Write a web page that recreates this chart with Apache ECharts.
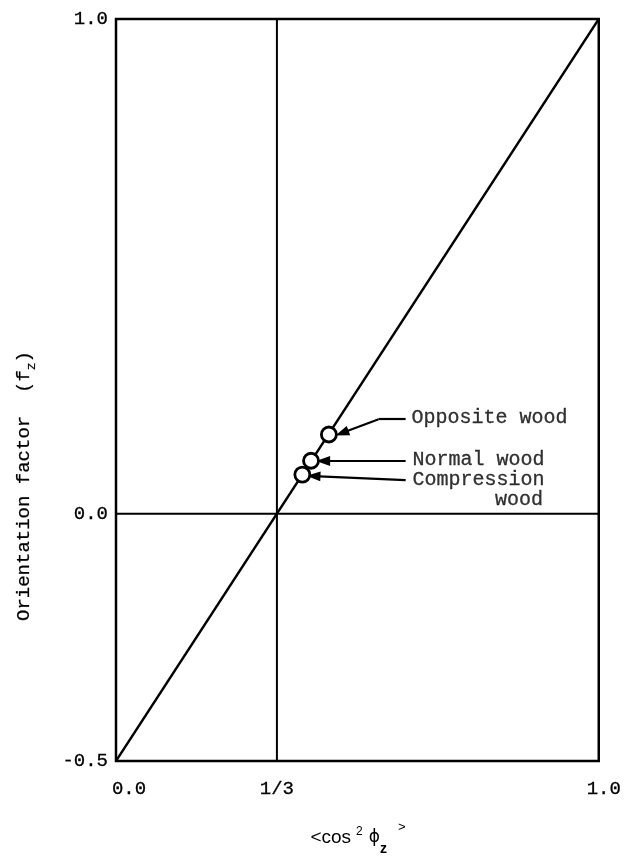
<!DOCTYPE html>
<html>
<head>
<meta charset="utf-8">
<script src="https://cdn.jsdelivr.net/npm/echarts@6/dist/echarts.min.js"></script>
<style>
  html, body { margin: 0; padding: 0; background: #fff; }
  #chart { width: 624px; height: 860px; }
</style>
</head>
<body>
<div id="chart"></div>
<script>
// ---- data ----
const xTickValues = [0, 1/3, 1];
const xTickLabels = ['0.0', '1/3', '1.0'];
const yTickValues = [-0.5, 0, 1];
const yTickLabels = ['-0.5', '0.0', '1.0'];

// theoretical line f = (3<cos^2> - 1)/2
const lineX = [0, 1];
const lineY = [-0.5, 1.0];

// reference lines
const refX = 1/3;
const refY = 0;

// measured woods
const woodNames = ['Opposite wood', 'Normal wood', 'Compression wood'];
const woodX = [0.441, 0.404, 0.386];
const woodY = [0.160, 0.107, 0.079];

// annotation arrows (data coordinates)
const arrowOpposite = [[0.600, 0.191], [0.544, 0.191], [0.468, 0.163]];
const arrowNormal = [[0.600, 0.1065], [0.429, 0.1065]];
const arrowCompression = [[0.600, 0.068], [0.409, 0.076]];

// annotation text anchors (data coordinates)
const labelTexts = ['Opposite wood', 'Normal wood', 'Compression'];
const labelX = [0.612, 0.614, 0.614];
const labelY = [0.193, 0.1085, 0.068];
const label2Text = 'wood';
const label2X = 0.8845;
const label2Y = 0.0276;

// ---- chart ----
const mono = 'Liberation Mono';
const thick = { textBorderColor: '#000', textBorderWidth: 0.3 };
const chart = echarts.init(document.getElementById('chart'), null, { renderer: 'canvas' });

function lookup(values, labels, v) {
  for (let i = 0; i < values.length; i++) {
    if (Math.abs(values[i] - v) < 1e-9) return labels[i];
  }
  return '';
}

const arrowEnd = { symbol: 'triangle', symbolSize: [10, 14] };

const option = {
  backgroundColor: '#fff',
  animation: false,
  grid: {
    left: 116, right: 23, top: 19, bottom: 99,
    show: true, borderColor: '#000', borderWidth: 2.5, backgroundColor: 'transparent'
  },
  xAxis: {
    type: 'value', min: 0, max: 1,
    axisLine: { show: false }, axisTick: { show: false }, splitLine: { show: false },
    axisLabel: Object.assign({
      customValues: xTickValues,
      margin: 18,
      color: '#000', fontFamily: mono, fontSize: 19,
      formatter: function (v) {
        const t = lookup(xTickValues, xTickLabels, v);
        if (Math.abs(v) < 1e-9) return '{l|' + t + '}';
        if (Math.abs(v - 1) < 1e-9) return '{r|' + t + '}';
        return t;
      },
      rich: {
        l: Object.assign({ fontFamily: mono, fontSize: 19, color: '#000', padding: [0, 0, 0, 26] }, thick),
        r: Object.assign({ fontFamily: mono, fontSize: 19, color: '#000', padding: [0, 0, 0, 10] }, thick)
      }
    }, thick)
  },
  yAxis: {
    type: 'value', min: -0.5, max: 1, interval: 0.5,
    axisLine: { show: false }, axisTick: { show: false }, splitLine: { show: false },
    axisLabel: Object.assign({
      customValues: yTickValues,
      margin: 8,
      color: '#000', fontFamily: mono, fontSize: 19,
      formatter: function (v) { return lookup(yTickValues, yTickLabels, v); }
    }, thick)
  },
  graphic: [
    {
      type: 'text',
      x: 26, y: 486,
      rotation: Math.PI / 2,
      style: {
        text: '{m|Orientation factor  (f}{s|z}{m|)}',
        align: 'center', verticalAlign: 'middle',
        rich: {
          m: { fontFamily: mono, fontSize: 19, fill: '#000', stroke: '#000', lineWidth: 0.25, verticalAlign: 'top' },
          s: { fontFamily: mono, fontSize: 13, fill: '#000', stroke: '#000', lineWidth: 0.2, verticalAlign: 'top', padding: [11, 0, 0, 0] }
        }
      }
    },
    {
      type: 'text',
      x: 358, y: 838,
      style: {
        text: '{a|<cos}{b|2}{c|\u03D5}{d|z}{e|>}',
        align: 'center', verticalAlign: 'middle',
        rich: {
          a: { fontFamily: 'Liberation Sans', fontSize: 19, fill: '#000', verticalAlign: 'top', padding: [9, 0, 0, 0] },
          b: { fontFamily: 'Liberation Sans', fontSize: 12, fill: '#000', verticalAlign: 'top', padding: [6, 0, 0, 5] },
          c: { fontFamily: 'DejaVu Sans', fontSize: 17, fill: '#000', verticalAlign: 'top', padding: [10, 0, 0, 6] },
          d: { fontFamily: 'Liberation Sans', fontSize: 14, fontWeight: 'bold', fill: '#000', verticalAlign: 'top', padding: [23, 0, 0, 0] },
          e: { fontFamily: 'Liberation Sans', fontSize: 13, fill: '#000', verticalAlign: 'top', padding: [1, 0, 0, 11] }
        }
      }
    }
  ],
  series: [
    {
      name: 'theory', type: 'line', silent: true,
      data: lineX.map((x, i) => [x, lineY[i]]),
      showSymbol: false, symbol: 'none',
      lineStyle: { color: '#000', width: 2.3 }, z: 2
    },
    {
      name: 'refV', type: 'line', silent: true,
      data: [[refX, -0.5], [refX, 1]],
      showSymbol: false, symbol: 'none',
      lineStyle: { color: '#000', width: 2 }, z: 1
    },
    {
      name: 'refH', type: 'line', silent: true,
      data: [[0, refY], [1, refY]],
      showSymbol: false, symbol: 'none',
      lineStyle: { color: '#000', width: 2 }, z: 1
    },
    {
      name: 'arrows', type: 'scatter', silent: true,
      data: [], symbolSize: 0,
      markLine: {
        silent: true, animation: false,
        symbol: ['none', 'triangle'],
        symbolSize: [0, 12],
        label: { show: false },
        lineStyle: { color: '#000', width: 2.2, type: 'solid' },
        itemStyle: { color: '#000' },
        emphasis: { disabled: true },
        data: [
          [{ coord: arrowOpposite[0], symbol: 'none' }, { coord: arrowOpposite[1], symbol: 'none' }],
          [{ coord: arrowOpposite[1], symbol: 'none' }, Object.assign({ coord: arrowOpposite[2] }, arrowEnd)],
          [{ coord: arrowNormal[0], symbol: 'none' }, Object.assign({ coord: arrowNormal[1] }, arrowEnd)],
          [{ coord: arrowCompression[0], symbol: 'none' }, Object.assign({ coord: arrowCompression[1] }, arrowEnd)]
        ]
      },
      z: 3
    },
    {
      name: 'woods', type: 'scatter', silent: true,
      data: woodX.map((x, i) => ({ name: woodNames[i], value: [x, woodY[i]] })),
      symbol: 'circle', symbolSize: 15,
      itemStyle: { color: '#fff', borderColor: '#000', borderWidth: 2.8, opacity: 1 },
      z: 5
    },
    {
      name: 'labels', type: 'scatter', silent: true,
      symbolSize: 0,
      data: labelTexts.map((t, i) => ({ value: [labelX[i], labelY[i]], label: { formatter: t, align: 'left' } }))
        .concat([{ value: [label2X, label2Y], label: { formatter: label2Text, align: 'right' } }]),
      label: Object.assign({
        show: true, position: 'inside', verticalAlign: 'middle',
        fontFamily: mono, fontSize: 20, color: '#000'
      }, thick),
      z: 6
    }
  ]
};

chart.setOption(option);
</script>
</body>
</html>
